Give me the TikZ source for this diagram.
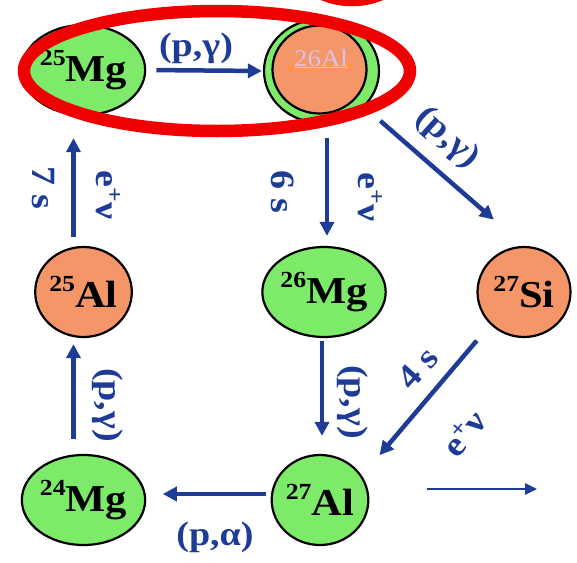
\documentclass[tikz,border=0pt]{standalone}
\usepackage{fontspec}
\setmainfont[FakeStretch=1.12]{Liberation Serif}
\usetikzlibrary{arrows.meta,shapes.geometric}

\definecolor{flowblue}{RGB}{30,60,150}
\definecolor{nucgreen}{RGB}{125,235,105}
\definecolor{nucorange}{RGB}{245,150,105}
\definecolor{ringred}{RGB}{240,0,0}
\definecolor{alpurple}{RGB}{215,195,232}

\newcommand\nucfont{\fontsize{38}{38}\selectfont\bfseries}
\newcommand\lblfont{\fontsize{34}{34}\selectfont\bfseries}
\newcommand\supfont{\fontsize{23}{23}\selectfont}
\newcommand\iso[2]{\raisebox{16pt}{\supfont #1}#2}
\newcommand\epnu{e\raisebox{11pt}{\supfont +}ν}

\begin{document}
\begin{tikzpicture}[x=1pt,y=-1pt,
    nuc/.style={ellipse, draw, line width=2.2pt, minimum width=93pt,
      minimum height=90pt, inner sep=0pt, font=\nucfont},
    green nuc/.style={nuc, fill=nucgreen},
    orange nuc/.style={nuc, fill=nucorange},
    flow/.style={draw=flowblue, line width=4.5pt,
      -{Triangle[length=14pt,width=14pt]}},
    thin flow/.style={draw=flowblue, line width=2.5pt,
      -{Triangle[length=12pt,width=11pt]}},
    lbl/.style={text=flowblue, font=\lblfont, inner sep=0pt},
    ring/.style={draw=ringred, line width=12.5pt}]

  \useasboundingbox (0,0) rectangle (577,562);

  % the nuclei
  \node[green nuc]  (mg25) at (83.5,70) {\iso{25}{Mg}};
  \node[nuc, fill=nucgreen, minimum width=115pt, minimum height=104pt]
    (al26) at (321.5,71) {};
  \draw[line width=2.2pt, fill=nucorange] (319.5,69.5)
    ellipse [x radius=47pt, y radius=44pt];
  \node[font=\fontsize{24}{24}\selectfont, text=alpurple, anchor=base]
    (al26txt) at (321,66) {\underline{26Al}};
  \node[orange nuc] (al25) at (83.5,292) {\iso{25}{Al}};
  \node[green nuc]  (mg26) at (324,292) {\iso{26}{Mg}};
  \node[orange nuc] (si27) at (524,292) {\iso{27}{Si}};
  \node[green nuc]  (mg24) at (83.5,500) {\iso{24}{Mg}};
  \node[green nuc]  (al27) at (320,500) {\iso{27}{Al}};

  % reactions and decays
  \draw[flow, shorten <=10pt, shorten >=1pt] (mg25.east) -- (al26.west);
  \draw[flow, shorten <=9pt, shorten >=22pt]
    ([xshift=-10pt]al25.north) -- ([xshift=-10pt]mg25.south);
  \draw[flow, shorten <=14pt, shorten >=10pt]
    ([xshift=5.5pt]al26.south) -- ([xshift=3pt]mg26.north);
  \draw[flow, shorten <=21pt, shorten >=40pt] (al26.-40) -- (si27.north);
  \draw[flow, shorten <=15pt, shorten >=6pt]
    ([xshift=-10pt]mg24.north) -- ([xshift=-10pt]al25.south);
  \draw[flow, shorten <=3pt, shorten >=18pt]
    ([xshift=-2pt]mg26.south) -- ([xshift=2pt]al27.north);
  \draw[flow, shorten <=21pt, shorten >=27pt] (si27.south west) -- (al27.30);
  \draw[flow, shorten <=4.5pt, shorten >=16.5pt]
    ([yshift=6pt]al27.west) -- ([yshift=6pt]mg24.east);

  % the lone arrow
  \coordinate (outL) at (427,489);
  \coordinate (outR) at (537,489);
  \draw[thin flow] (outL) -- (outR);

  % labels
  \node[lbl] (pg1) at (196,48) {(p,γ)};
  \node[lbl, rotate=-90] (t25) at (43,188) {7 s};
  \node[lbl, rotate=-90] (d25) at (108,195) {\epnu};
  \node[lbl, rotate=-90] (t26) at (283,192) {6 s};
  \node[lbl, rotate=-90] (d26) at (370,197) {\epnu};
  \node[lbl, rotate=-42] (pg2) at (447,138) {(p,γ)};
  \node[lbl, rotate=-90] (pg3) at (108,405) {(p,γ)};
  \node[lbl, rotate=-90] (pg4) at (353,402) {(p,γ)};
  \node[lbl, rotate=48]  (t27) at (418,368) {4 s};
  \node[lbl, rotate=50]  (d27) at (464,433) {\epnu};
  \node[lbl] (pa1) at (215,537) {(p,α)};

  % the red marks
  \draw[ring] (217,71) ellipse [x radius=193pt, y radius=60pt];
  \draw[ring] (352,-75) circle [radius=75pt];

\end{tikzpicture}
\end{document}
